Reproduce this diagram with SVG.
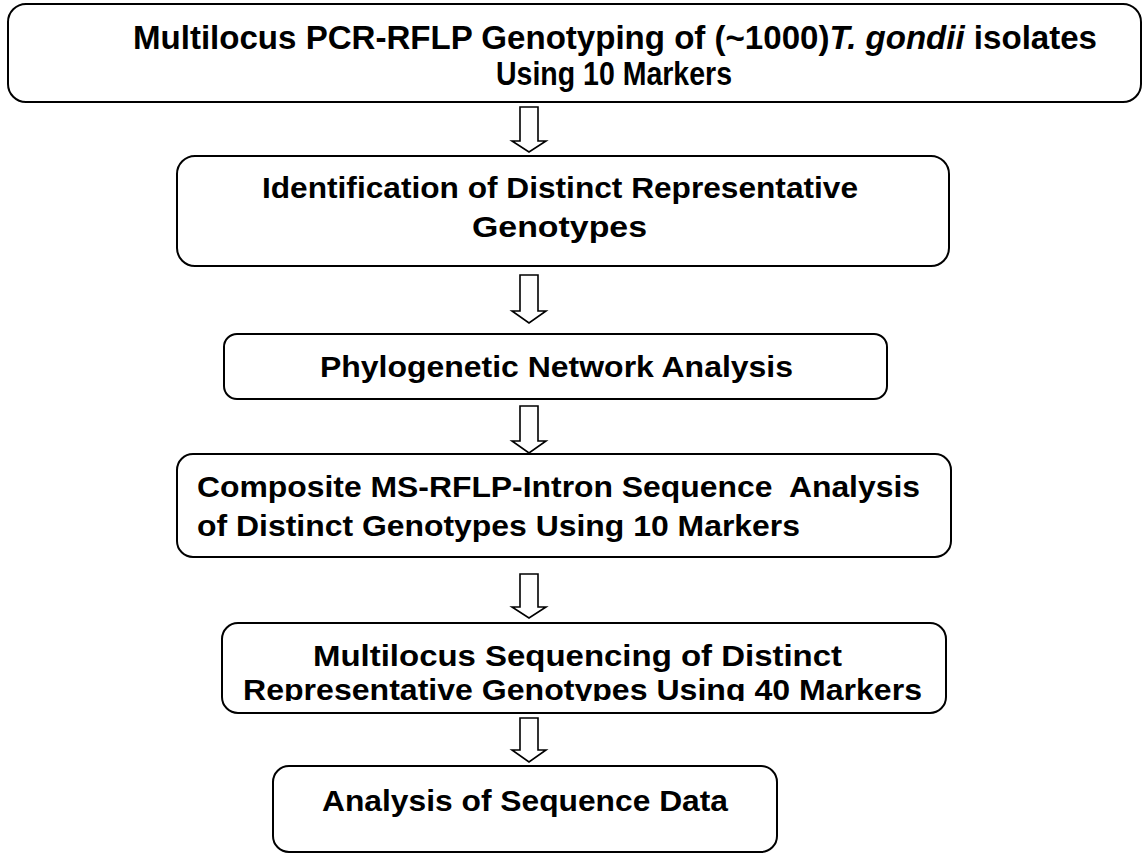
<svg xmlns="http://www.w3.org/2000/svg" width="1148" height="853" viewBox="0 0 1148 853">
<style>
.box{fill:#fff;stroke:#000;stroke-width:2}
.arr{fill:#fff;stroke:#000;stroke-width:1.6;stroke-linejoin:miter}
.t{font-family:"Liberation Sans",Arial,sans-serif;font-weight:bold;font-size:30px;fill:#000}
.n{font-family:"Liberation Sans Narrow","Arial Narrow","Liberation Sans",Arial,sans-serif;font-weight:bold;font-size:34px;fill:#000}
</style>
<defs>
<clipPath id="c5"><rect x="200" y="620" width="760" height="81"/></clipPath>
</defs>
<rect width="1148" height="853" fill="#fff"/>
<g id="connectors">
<polygon class="arr" points="520,107 538,107 538,141 546,141 529,152 512,141 520,141"/>
<polygon class="arr" points="520,275 538,275 538,311 546,311 529,323 512,311 520,311"/>
<polygon class="arr" points="520,406 538,406 538,441 546,441 529,453 512,441 520,441"/>
<polygon class="arr" points="520,574 538,574 538,607 546,607 529,618 512,607 520,607"/>
<polygon class="arr" points="520,718 538,718 538,750 546,750 529,762 512,750 520,750"/>
</g>
<g id="n1">
<rect class="box" x="8" y="4" width="1133" height="98" rx="18"/>
<text class="n" x="133" y="49" textLength="964" lengthAdjust="spacingAndGlyphs">Multilocus PCR-RFLP Genotyping of (~1000)<tspan font-style="italic">T. gondii</tspan> isolates</text>
<text class="n" x="496" y="85" textLength="236" lengthAdjust="spacingAndGlyphs">Using 10 Markers</text>
</g>
<g id="n2">
<rect class="box" x="177" y="156" width="772" height="110" rx="18"/>
<text class="t" x="262" y="198" textLength="596" lengthAdjust="spacingAndGlyphs">Identification of Distinct Representative</text>
<text class="t" x="472" y="237" textLength="175" lengthAdjust="spacingAndGlyphs">Genotypes</text>
</g>
<g id="n3">
<rect class="box" x="224" y="334" width="663" height="65" rx="13"/>
<text class="t" x="320" y="377" textLength="473" lengthAdjust="spacingAndGlyphs">Phylogenetic Network Analysis</text>
</g>
<g id="n4">
<rect class="box" x="177" y="454" width="774" height="103" rx="16"/>
<text class="t" x="197" y="497" textLength="723" lengthAdjust="spacingAndGlyphs" xml:space="preserve">Composite MS-RFLP-Intron Sequence  Analysis</text>
<text class="t" x="197" y="536" textLength="603" lengthAdjust="spacingAndGlyphs">of Distinct Genotypes Using 10 Markers</text>
</g>
<g id="n5">
<rect class="box" x="222" y="623" width="724" height="90" rx="16"/>
<text class="t" x="313" y="666" textLength="529" lengthAdjust="spacingAndGlyphs">Multilocus Sequencing of Distinct</text>
<text class="t" x="243" y="700" textLength="679" lengthAdjust="spacingAndGlyphs" clip-path="url(#c5)">Representative Genotypes Using 40 Markers</text>
</g>
<g id="n6">
<rect class="box" x="273" y="766" width="504" height="86" rx="16"/>
<text class="t" x="322" y="811" textLength="406" lengthAdjust="spacingAndGlyphs">Analysis of Sequence Data</text>
</g>
</svg>
